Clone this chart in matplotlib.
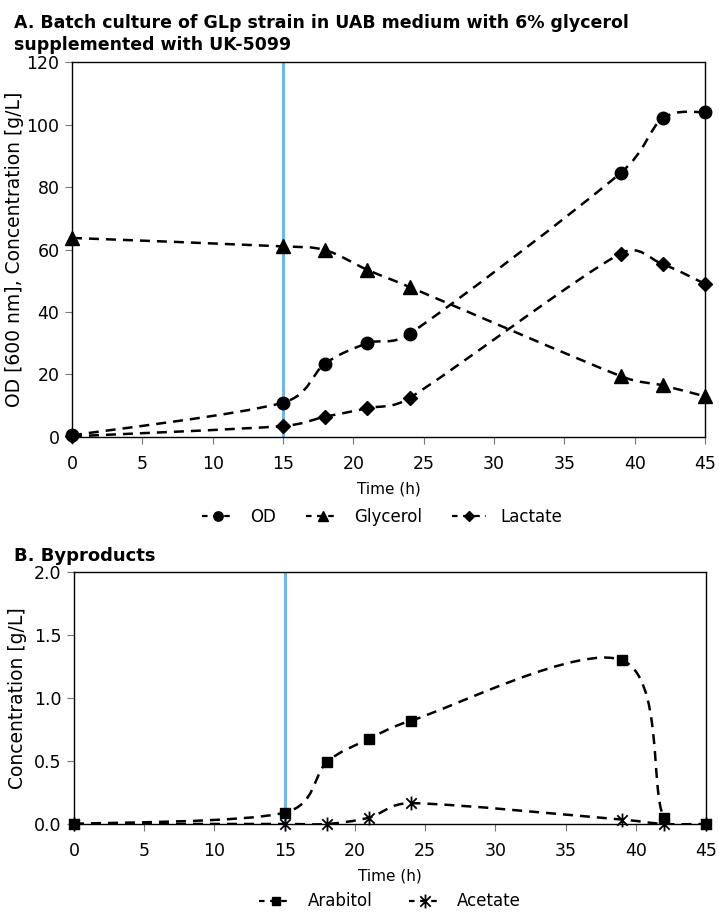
import matplotlib
import matplotlib.pyplot as plt
from matplotlib.path import Path
from matplotlib.patches import PathPatch
from matplotlib.lines import Line2D
from matplotlib.ticker import FormatStrFormatter
import numpy as np

matplotlib.use("Agg")
plt.rcParams["font.family"] = ["DejaVu Sans"]

# sampling times (h)
time_h = [0, 15, 18, 21, 24, 39, 42, 45]

# panel A
od = [0.5, 11, 23.5, 30, 33, 84.5, 102, 104]
glycerol = [63.7, 61, 59.8, 53.5, 48, 19.5, 16.5, 13]
lactate = [0.2, 3.5, 6.5, 9.2, 12.5, 58.7, 55.3, 49]

# panel B
arabitol = [0.0, 0.09, 0.49, 0.675, 0.82, 1.30, 0.05, 0.0]
acetate = [0.0, 0.0, 0.0, 0.05, 0.165, 0.035, 0.0, 0.0]

feed_time = 15
x_ticks = list(range(0, 50, 5))

# excel style "star": X with a vertical bar
STAR = Path([(0, -1), (0, 1), (-0.75, -0.75), (0.75, 0.75), (-0.75, 0.75), (0.75, -0.75)],
            [Path.MOVETO, Path.LINETO] * 3)


def smooth_path(ax, x, y):
    # smoothed line like the spreadsheet one: bezier arms along (P[i+1]-P[i-1]),
    # a sixth of that long, capped at half the segment (screen space)
    fig = ax.figure
    bb = ax.get_position()
    x0, x1 = ax.get_xlim()
    y0, y1 = ax.get_ylim()
    sx = bb.width * fig.get_figwidth() * fig.dpi / (x1 - x0)
    sy = bb.height * fig.get_figheight() * fig.dpi / (y1 - y0)
    pts = np.column_stack([np.asarray(x, float) * sx, np.asarray(y, float) * sy])
    n = len(pts)

    def arm(i, seg_len):
        t = (pts[min(i + 1, n - 1)] - pts[max(i - 1, 0)]) / 6.0
        ln = np.hypot(*t)
        cap = 0.5 * seg_len
        if ln > cap and ln > 0:
            t = t * cap / ln
        return t

    verts = [pts[0]]
    codes = [Path.MOVETO]
    for i in range(n - 1):
        seg = np.hypot(*(pts[i + 1] - pts[i]))
        c1 = pts[i] + arm(i, seg)
        c2 = pts[i + 1] - arm(i + 1, seg)
        verts += [c1, c2, pts[i + 1]]
        codes += [Path.CURVE4] * 3
    verts = np.array(verts) / np.array([sx, sy])
    return Path(verts, codes)


def plot_series(ax, x, y, marker, ms, label, mew=1.0, legend_ms=None):
    patch = PathPatch(smooth_path(ax, x, y), facecolor="none", edgecolor="black",
                      linewidth=1.8, linestyle=(0, (4, 2.8)), zorder=3)
    ax.add_patch(patch)
    ax.plot(x, y, linestyle="none", marker=marker, markersize=ms, markeredgewidth=mew,
            color="black", zorder=4, clip_on=False)
    return Line2D([], [], color="black", linestyle=(0, (2.5, 2.5)), linewidth=1.6,
                  marker=marker, markersize=legend_ms or ms * 0.75,
                  markeredgewidth=mew, label=label)


def style_axes(ax):
    for side in ax.spines.values():
        side.set_color("black")
        side.set_linewidth(1.0)
    ax.tick_params(axis="both", direction="out", length=5, width=0.8,
                   color="#777777", labelsize=12.5)
    ax.tick_params(axis="x", pad=8)
    ax.tick_params(axis="y", pad=4)
    ax.set_xlim(0, 45)
    ax.set_xticks(x_ticks)
    ax.axvline(feed_time, color="#72b8e6", linewidth=2.2, zorder=2)


fig = plt.figure(figsize=(7.19, 9.19), dpi=100)

# panel A
ax1 = fig.add_axes([0.1001, 0.5245, 0.8804, 0.408])
ax1.set_ylim(0, 120)
style_axes(ax1)
h1 = plot_series(ax1, time_h, od, "o", 9, "OD")
h2 = plot_series(ax1, time_h, glycerol, "^", 10, "Glycerol")
h3 = plot_series(ax1, time_h, lactate, "D", 7, "Lactate")
ax1.set_yticks(range(0, 121, 20))
ax1.set_xlabel("Time (h)", fontsize=11, labelpad=6)
ax1.set_ylabel("OD [600 nm], Concentration [g/L]", fontsize=13.5, labelpad=2)
ax1.legend(handles=[h1, h2, h3], loc="upper center", bbox_to_anchor=(0.49, -0.15),
           ncol=3, frameon=False, fontsize=12, handlelength=2.0,
           columnspacing=1.8, handletextpad=0.9)
fig.text(0.02, 0.985, "A. Batch culture of GLp strain in UAB medium with 6% glycerol\nsupplemented with UK-5099",
         fontsize=12.5, fontweight="bold", va="top", ha="left", linespacing=1.3)

# panel B
ax2 = fig.add_axes([0.1029, 0.1034, 0.8791, 0.2742])
ax2.set_ylim(0, 2.0)
style_axes(ax2)
h4 = plot_series(ax2, time_h, arabitol, "s", 7.5, "Arabitol")
h5 = plot_series(ax2, time_h, acetate, STAR, 10, "Acetate", mew=1.3, legend_ms=10)
ax2.set_yticks(np.arange(0, 2.01, 0.5))
ax2.yaxis.set_major_formatter(FormatStrFormatter("%.1f"))
ax2.set_xlabel("Time (h)", fontsize=11, labelpad=6)
ax2.set_ylabel("Concentration [g/L]", fontsize=13.5, labelpad=5)
ax2.legend(handles=[h4, h5], loc="upper center", bbox_to_anchor=(0.5, -0.225),
           ncol=2, frameon=False, fontsize=12, handlelength=2.0,
           columnspacing=2.2, handletextpad=0.9, borderpad=0.2)
fig.text(0.02, 0.405, "B. Byproducts", fontsize=13, fontweight="bold",
         va="top", ha="left")

fig.savefig("out.png", dpi=100)
